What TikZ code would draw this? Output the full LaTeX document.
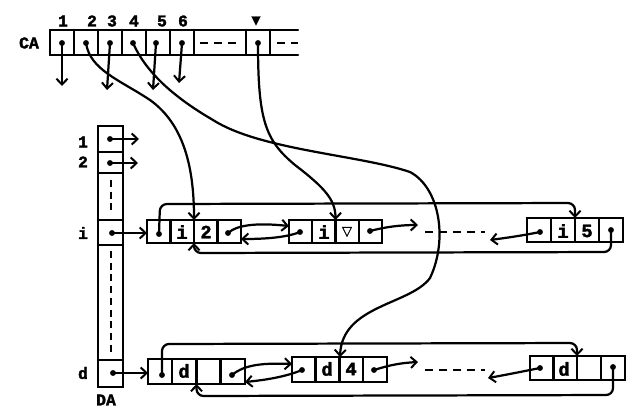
\documentclass[tikz,border=0pt]{standalone}
\usepackage{fontspec}
\setmainfont{Liberation Mono}[BoldFeatures={FakeBold=2}]
\newfontfamily\symf{DejaVu Sans}[FakeBold=1.5]
\usetikzlibrary{arrows.meta}
\begin{document}
\begin{tikzpicture}[x=0.03cm,y=-0.03cm,
  line width=1.9pt, line cap=round,
  arr/.style={-{Straight Barb[length=5pt,width=9.5pt,line width=1.7pt]}},
  dot/.style={circle,fill,inner sep=0pt,minimum size=5pt},
  lbl/.style={font=\fontsize{14}{16}\selectfont\bfseries, inner sep=0pt},
  celltxt/.style={font=\fontsize{16}{18}\selectfont\bfseries, inner sep=0pt},
  dsh/.style={dash pattern=on 6pt off 4pt, line cap=butt},
  hdsh/.style={dash pattern=on 7pt off 5pt, line cap=butt, line width=2.1pt}]
\useasboundingbox (0,0) rectangle (627,408);

% ---------- CA array ----------
\node[lbl] (caname) at (29,43) {CA};
\draw (50,30) -- (298,30);
\draw (50,55) -- (298,55);
\foreach \x in {50,74,98,122,146,170,194,246,270} \draw (\x,30) -- (\x,55);
\draw[hdsh] (200,43) -- (240,43);
\draw[hdsh] (277,43) -- (298,43);
\node[lbl] (t1) at (63,21) {1};
\node[lbl] (t2) at (92,21) {2};
\node[lbl] (t3) at (112,21) {3};
\node[lbl] (t4) at (134,21) {4};
\node[lbl] (t5) at (162,21) {5};
\node[lbl] (t6) at (183,21) {6};
\node[font=\symf\fontsize{10}{11}\selectfont, inner sep=0pt] (tv) at (256,21) {▼};
\node[dot] (ca1) at (62,43) {};
\node[dot] (ca2) at (86,43) {};
\node[dot] (ca3) at (110,43) {};
\node[dot] (ca4) at (133,43) {};
\node[dot] (ca5) at (156,43) {};
\node[dot] (ca6) at (182,43) {};
\node[dot] (cav) at (258,43) {};
\coordinate (e1) at (62,86);
\coordinate (e3) at (107,90);
\coordinate (e5) at (153,90);
\coordinate (e6) at (179,83);
\draw[arr] (ca1.center) -- (e1);
\draw[arr] (ca3.center) -- (e3);
\draw[arr] (ca5.center) -- (e5);
\draw[arr] (ca6.center) -- (e6);

% ---------- DA array ----------
\node[lbl] (daname) at (106,400) {DA};
\draw (98,126) rectangle (123,387);
\foreach \y in {152,173,220,245,360} \draw (98,\y) -- (123,\y);
\draw[dsh, line width=2.1pt] (111,180) -- (111,211);
\draw[dsh, line width=2.1pt] (111,251) -- (111,355);
\node[lbl] (r1) at (83,142) {1};
\node[lbl] (r2) at (83,162) {2};
\node[lbl] (ri) at (83,233) {i};
\node[lbl] (rd) at (83,373) {d};
\node[dot] (da1) at (110,139) {};
\node[dot] (da2) at (110,163) {};
\node[dot] (dai) at (112,233) {};
\node[dot] (dad) at (113,373) {};
\coordinate (f1) at (139,139);
\coordinate (f2) at (138,163);
\draw[arr] (da1.center) -- (f1);
\draw[arr] (da2.center) -- (f2);

% ---------- row i ----------
\draw (147,220) rectangle (241,243);
\foreach \x in {170.5,194,217.5} \draw (\x,220) -- (\x,243);
\draw (289,220) rectangle (382,243);
\foreach \x in {312,335.5,359} \draw (\x,220) -- (\x,243);
\draw (527,218) rectangle (623,242);
\foreach \x in {551,575,599} \draw (\x,218) -- (\x,242);
\node[celltxt] (a1) at (182,232) {i};
\node[celltxt] (a2) at (206,232) {2};
\node[celltxt] (b1) at (324,232) {i};
\node[font=\symf\fontsize{11}{12}\selectfont, inner sep=0pt] (b2) at (347,232) {▽};
\node[celltxt] (c1) at (563,231) {i};
\node[celltxt] (c2) at (587,231) {5};
\node[dot] (ia) at (159,234) {};
\node[dot] (ib) at (228,233) {};
\node[dot] (ic) at (300,232) {};
\node[dot] (id) at (370,231) {};
\node[dot] (ie) at (540,232) {};
\node[dot] (ig) at (611,230) {};
\coordinate (iN1L) at (147,233);
\coordinate (iN1R) at (241,239);
\coordinate (iN2L) at (289,226);
\coordinate (iN1T) at (194,220);
\coordinate (iN1B) at (194,243);
\coordinate (iN2T) at (335.5,220);
\coordinate (iN3T) at (575,218);
\coordinate (iout) at (418,225);
\coordinate (iin) at (490,240);
\draw[arr] (dai.center) -- (iN1L);
\draw[arr] (ib.center) .. controls (238,224) and (260,223) .. (iN2L);
\draw[arr] (ic.center) .. controls (285,238) and (262,239) .. (iN1R);
\draw[arr] (id.center) .. controls (385,227) and (400,225) .. (iout);
\draw[arr] (ie.center) .. controls (520,236) and (505,238) .. (iin);
\draw[hdsh] (425,232) -- (485,232);
\draw[arr, rounded corners=6pt] (ia.center) -- (160,204) -- (575,203) -- (iN3T);
\draw[arr, rounded corners=6pt] (ig.center) -- (611,252) -- (194,253) -- (iN1B);

% ---------- row d ----------
\draw (148,359) rectangle (245,384);
\foreach \x in {172,196.5,220.5} \draw (\x,359) -- (\x,384);
\draw (292,357) rectangle (387,382);
\foreach \x in {315.5,339.5,363} \draw (\x,357) -- (\x,382);
\draw (530,356) rectangle (625,380);
\foreach \x in {553.5,577,601} \draw (\x,356) -- (\x,380);
\node[celltxt] (g1) at (184,371) {d};
\node[celltxt] (h1) at (327,369) {d};
\node[celltxt] (h2) at (351,369) {4};
\node[celltxt] (k1) at (564,369) {d};
\node[dot] (da) at (162,375) {};
\node[dot] (db) at (232,375) {};
\node[dot] (dc) at (302,370) {};
\node[dot] (dd) at (374,370) {};
\node[dot] (de) at (540,368) {};
\node[dot] (dg) at (613,367) {};
\coordinate (dN1L) at (148,373);
\coordinate (dN1R) at (245,382);
\coordinate (dN2L) at (292,364);
\coordinate (dN1B) at (196.5,384);
\coordinate (dN2T) at (340,357);
\coordinate (dN3T) at (577,356);
\coordinate (dout) at (418,362);
\coordinate (din) at (488,378);
\draw[arr] (dad.center) -- (dN1L);
\draw[arr] (db.center) .. controls (245,364) and (265,363) .. (dN2L);
\draw[arr] (dc.center) .. controls (285,377) and (265,380) .. (dN1R);
\draw[arr] (dd.center) .. controls (390,365) and (400,363) .. (dout);
\draw[arr] (de.center) .. controls (520,372) and (505,375) .. (din);
\draw[hdsh] (425,370) -- (485,370);
\draw[arr, rounded corners=6pt] (da.center) -- (162,344) -- (577,343) -- (dN3T);
\draw[arr, rounded corners=6pt] (dg.center) -- (613,395) -- (196.5,396) -- (dN1B);

% ---------- long pointers from CA ----------
\draw[arr] (ca2.center) .. controls (90,70) and (120,80) .. (150,100)
  .. controls (185,125) and (194,170) .. (iN1T);
\draw[arr] (cav.center) .. controls (258,120) and (265,140) .. (295,165)
  .. controls (325,188) and (335.5,200) .. (iN2T);
\draw[arr] (ca4.center) .. controls (145,70) and (170,95) .. (213,120)
  .. controls (260,150) and (360,155) .. (410,172)
  .. controls (440,188) and (448,240) .. (430,278)
  .. controls (410,305) and (342,305) .. (dN2T);
\end{tikzpicture}
\end{document}
